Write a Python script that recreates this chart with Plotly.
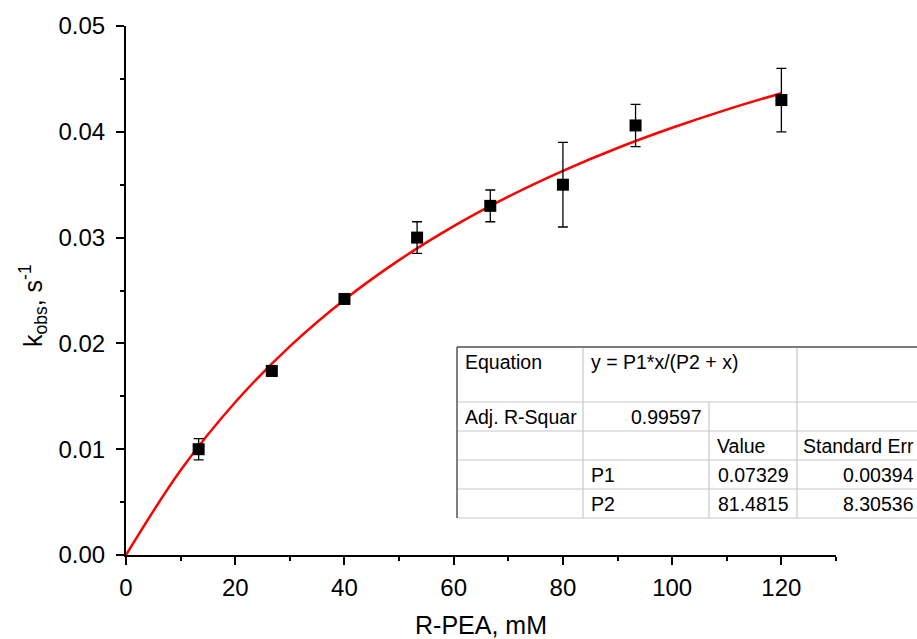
import plotly.graph_objects as go

# ---- data ----
conc = [13.3, 26.7, 40.0, 53.3, 66.7, 80.0, 93.3, 120.0]
kobs = [0.0100, 0.0174, 0.0242, 0.0300, 0.0330, 0.0350, 0.0406, 0.0430]
kerr = [0.0010, 0.0005, 0.0002, 0.0015, 0.0015, 0.0040, 0.0020, 0.0030]

fit_x = [0, 10, 20, 30, 40, 50, 60, 70, 80, 90, 100, 110, 120]
fit_y = [0.0, 0.00801, 0.01444, 0.01972, 0.02413, 0.02787, 0.03108,
         0.03387, 0.03631, 0.03847, 0.04038, 0.04210, 0.04365]

x_ticks = [0, 20, 40, 60, 80, 100, 120]
y_ticks = [0.00, 0.01, 0.02, 0.03, 0.04, 0.05]

table_rows = [
    ["Equation", "y = P1*x/(P2 + x)", "", ""],
    ["Adj. R-Squar", "0.99597", "", ""],
    ["", "", "Value", "Standard Err"],
    ["", "P1", "0.07329", "0.00394"],
    ["", "P2", "81.4815", "8.30536"],
]

W, H = 917, 639
L, R, T, B = 126, 836, 26, 555  # plot area in pixels

def px(x):
    return (x - L) / (R - L)

def py(y):
    return (B - y) / (B - T)

FONT = "Liberation Sans, Arial, sans-serif"

fig = go.Figure()
fig.add_trace(go.Scatter(x=fit_x, y=fit_y, mode="lines",
                         line=dict(color="#ff0000", width=2.5, shape="spline"),
                         hoverinfo="skip", showlegend=False))
fig.add_trace(go.Scatter(x=conc, y=kobs, mode="markers",
                         marker=dict(symbol="square", size=12, color="black"),
                         error_y=dict(type="data", array=kerr, visible=True,
                                      color="black", thickness=1.3, width=5),
                         showlegend=False))

# ---- table geometry (pixels) ----
col_x = [457, 583, 709, 797, 940]
row_y = [347, 402, 431, 460, 489, 518]
shapes = []
inner = dict(color="#c8c8c8", width=1.2)
shapes.append(dict(type="rect", xref="paper", yref="paper",
                   x0=px(col_x[0]), x1=px(col_x[-1]), y0=py(row_y[-1]), y1=py(row_y[0]),
                   fillcolor="white", line=dict(width=0), layer="above"))
for yy in row_y[1:]:
    shapes.append(dict(type="line", xref="paper", yref="paper",
                       x0=px(col_x[0]), x1=px(col_x[-1]), y0=py(yy), y1=py(yy), line=inner))
shapes.append(dict(type="line", xref="paper", yref="paper",
                   x0=px(col_x[1]), x1=px(col_x[1]), y0=py(row_y[0]), y1=py(row_y[-1]), line=inner))
shapes.append(dict(type="line", xref="paper", yref="paper",
                   x0=px(col_x[2]), x1=px(col_x[2]), y0=py(row_y[1]), y1=py(row_y[-1]), line=inner))
shapes.append(dict(type="line", xref="paper", yref="paper",
                   x0=px(col_x[3]), x1=px(col_x[3]), y0=py(row_y[0]), y1=py(row_y[-1]), line=inner))
shapes.append(dict(type="line", xref="paper", yref="paper",
                   x0=px(col_x[0]), x1=px(col_x[-1]), y0=py(row_y[0]), y1=py(row_y[0]),
                   line=dict(color="#7a7a7a", width=2)))
shapes.append(dict(type="line", xref="paper", yref="paper",
                   x0=px(col_x[0]), x1=px(col_x[0]), y0=py(row_y[0]), y1=py(row_y[-1]),
                   line=dict(color="#555555", width=1.5)))

annotations = []
tfont = dict(family=FONT, size=19.5, color="black")
align = [
    [("left", 463), ("left", 589), None, None],
    [("left", 463), ("right", 704), None, None],
    [None, None, ("left", 715), ("left", 801)],
    [None, ("left", 589), ("right", 791), ("right", 916)],
    [None, ("left", 589), ("right", 791), ("right", 916)],
]
for r, row in enumerate(table_rows):
    for c, txt in enumerate(row):
        if not txt or align[r][c] is None:
            continue
        anchor, xp = align[r][c]
        yc = 362 if r == 0 else (row_y[r] + row_y[r + 1]) / 2
        annotations.append(dict(text=txt, xref="paper", yref="paper",
                                x=px(xp), y=py(yc), xanchor=anchor, yanchor="middle",
                                showarrow=False, font=tfont))

# y-axis title (as annotation so it can sit slightly below the axis centre, like the reference)
annotations.append(dict(text="k<sub>obs</sub>, s<sup>-1</sup>", xref="paper", yref="paper",
                        x=px(33), y=py(306), xanchor="center", yanchor="middle",
                        textangle=-90, showarrow=False,
                        font=dict(family=FONT, size=25, color="black")))

axis_common = dict(showline=True, linecolor="black", linewidth=2, ticks="outside",
                   ticklen=8, tickwidth=2, tickcolor="black", showgrid=False,
                   zeroline=False, mirror=False,
                   tickfont=dict(family=FONT, size=24, color="black"))

fig.update_layout(
    width=W, height=H,
    margin=dict(l=L, r=W - R, t=T, b=H - B, pad=0),
    paper_bgcolor="white", plot_bgcolor="white",
    shapes=shapes, annotations=annotations,
    xaxis=dict(range=[0, 130], tickvals=x_ticks, ticklabelstandoff=2,
               minor=dict(dtick=10, tick0=0, ticks="outside", ticklen=4,
                          tickwidth=2, tickcolor="black"),
               title=dict(text="R-PEA, mM", font=dict(family=FONT, size=25, color="black"),
                          standoff=18),
               automargin=False,
               **axis_common),
    yaxis=dict(range=[0, 0.05], tickvals=y_ticks, tickformat=".2f", ticklabelstandoff=6,
               minor=dict(dtick=0.005, tick0=0, ticks="outside", ticklen=4,
                          tickwidth=2, tickcolor="black"),
               automargin=False,
               **axis_common),
)

fig.write_html("out.html")
